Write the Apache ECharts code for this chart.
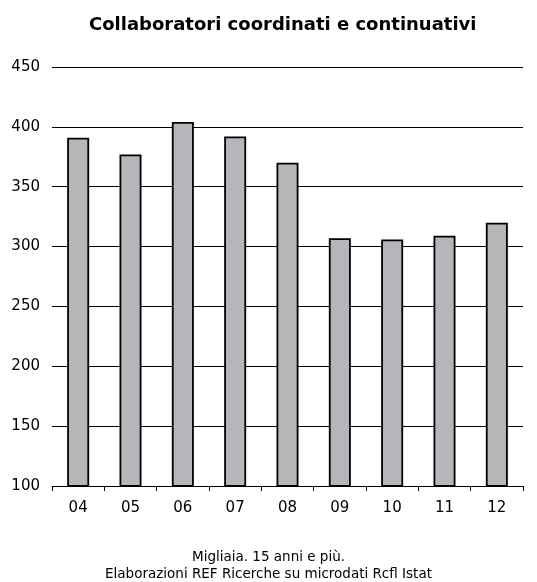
<!DOCTYPE html>
<html><head><meta charset="utf-8">
<script src="https://cdn.jsdelivr.net/npm/echarts@6/dist/echarts.min.js"></script>
<style>html,body{margin:0;padding:0;background:#fff}#c{width:537px;height:582px}</style>
</head><body><div id="c"></div>
<script>
var categories = ['04','05','06','07','08','09','10','11','12'];
var values = [391, 377, 404, 392, 370, 307, 306, 309, 320];
var yTicks = [100, 150, 200, 250, 300, 350, 400, 450];
var titleText = 'Collaboratori coordinati e continuativi';
var footnote = 'Migliaia. 15 anni e più.\nElaborazioni REF Ricerche su microdati Rcfl Istat';

var chart = echarts.init(document.getElementById('c'));
chart.setOption({
  animation: false,
  title: {
    text: titleText, left: 84, top: 11,
    textStyle: {fontFamily: 'DejaVu Sans', fontSize: 18, fontWeight: 'bold', color: '#000'}
  },
  graphic: [{
    type: 'text', left: 'center', top: 549,
    style: {text: footnote, fontFamily: 'DejaVu Sans', fontSize: 13.5, fill: '#000', textAlign: 'center', lineHeight: 17}
  }],
  grid: {left: 52, right: 14, top: 67, bottom: 96},
  xAxis: {
    type: 'category', data: categories,
    axisLine: {lineStyle: {color: '#000', width: 1}},
    axisTick: {show: true, length: 5, lineStyle: {color: '#000'}},
    axisLabel: {fontFamily: 'DejaVu Sans', fontSize: 15, color: '#000', margin: 15}
  },
  yAxis: {
    type: 'value', min: yTicks[0], max: yTicks[yTicks.length-1], interval: 50,
    axisLine: {show: false}, axisTick: {show: false},
    axisLabel: {fontFamily: 'DejaVu Sans', fontSize: 15, color: '#000', margin: 12},
    splitLine: {lineStyle: {color: '#000', width: 1}}
  },
  series: [{
    type: 'bar', data: values, barWidth: '42%',
    itemStyle: {color: '#b5b6ba', borderColor: '#000', borderWidth: 1.8}
  }]
});
</script></body></html>
